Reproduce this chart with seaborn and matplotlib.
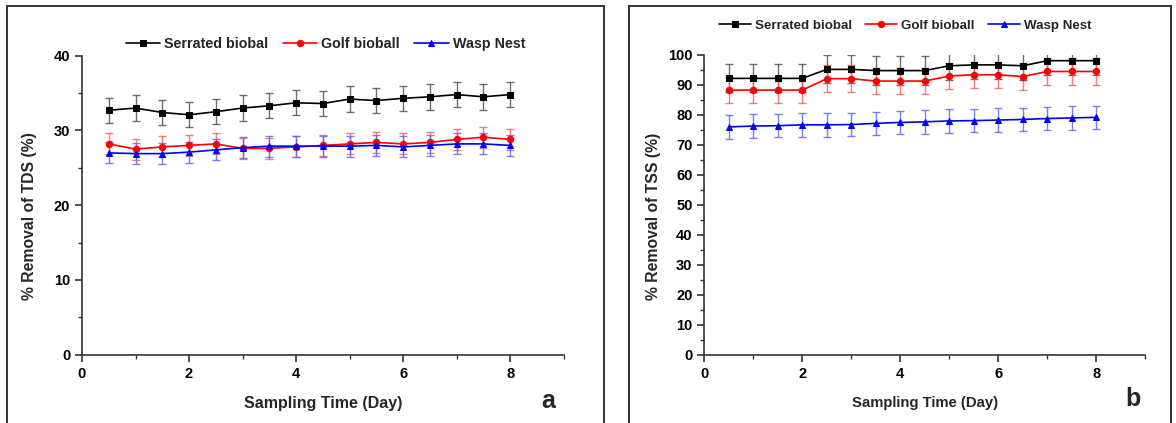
import numpy as np
import pandas as pd
import matplotlib
matplotlib.use("Agg")
import matplotlib.pyplot as plt
from matplotlib.patches import Rectangle
from matplotlib.ticker import MultipleLocator
import seaborn as sns

days = [0.5, 1, 1.5, 2, 2.5, 3, 3.5, 4, 4.5, 5, 5.5, 6, 6.5, 7, 7.5, 8]
series_names = ["Serrated biobal", "Golf bioball", "Wasp Nest"]

tds_serrated = [32.7, 33.0, 32.4, 32.1, 32.5, 33.0, 33.3, 33.7, 33.6, 34.2, 34.0, 34.3, 34.5, 34.8, 34.5, 34.8]
tds_golf = [28.2, 27.5, 27.8, 28.0, 28.2, 27.6, 27.6, 27.8, 28.0, 28.2, 28.4, 28.2, 28.4, 28.8, 29.1, 28.8]
tds_wasp = [27.0, 26.9, 26.9, 27.1, 27.4, 27.7, 27.9, 27.9, 27.9, 27.9, 28.0, 27.8, 28.0, 28.2, 28.2, 28.0]
tds_err = [1.7, 1.4, 1.4]

tss_serrated = [92.2, 92.2, 92.2, 92.2, 95.2, 95.2, 94.8, 94.8, 94.8, 96.4, 96.7, 96.7, 96.4, 98.1, 98.1, 98.1]
tss_golf = [88.3, 88.3, 88.3, 88.3, 92.1, 92.1, 91.3, 91.3, 91.3, 93.0, 93.4, 93.4, 92.8, 94.5, 94.5, 94.5]
tss_wasp = [76.0, 76.3, 76.4, 76.7, 76.7, 76.8, 77.2, 77.5, 77.7, 78.0, 78.1, 78.3, 78.5, 78.8, 79.0, 79.2]
tss_err = [4.7, 4.4, 3.9]

colors = ["#000000", "#ff0000", "#0000ff"]
err_colors = ["#555555", "#ee6666", "#6666ee"]
markers = ["s", "o", "^"]

sns.set_theme(style="ticks")
plt.rcParams["font.family"] = ["Liberation Sans", "DejaVu Sans"]
plt.rcParams["font.weight"] = "bold"

W, H = 1176, 423
fig = plt.figure(figsize=(W/100, H/100), dpi=100)

# panel frames
fig.patches.append(Rectangle((7/W, -0.01), (604-7)/W, 1 - 6/H + 0.01,
                             transform=fig.transFigure, fill=False, ec="#333333", lw=1.4))
fig.patches.append(Rectangle((629/W, -0.01), (1171-629)/W, 1 - 6/H + 0.01,
                             transform=fig.transFigure, fill=False, ec="#333333", lw=1.4))

ax1 = fig.add_axes([82/W, 1-354.7/H, 481.7/W, 299/H])
ax2 = fig.add_axes([704.3/W, 1-354.7/H, 441/W, 299.7/H])


def draw(ax, vals, errs, ylab, ymax, ylx, legx, legy, legsize, xlsize, letter, letpos):
    rows = []
    for name, v in zip(series_names, vals):
        for d, y in zip(days, v):
            rows.append({"Day": d, "Value": y, "Series": name})
    df = pd.DataFrame(rows)
    for name, v, e, ec in zip(series_names, vals, errs, err_colors):
        ax.errorbar(days, v, yerr=e, fmt="none", ecolor=ec, elinewidth=1.0,
                    capsize=2.6, capthick=1.0, alpha=0.85, zorder=1)
    sns.lineplot(data=df, x="Day", y="Value", hue="Series", style="Series",
                 hue_order=series_names, style_order=series_names,
                 palette=colors, markers=dict(zip(series_names, markers)),
                 dashes=False, markersize=4.6, markeredgecolor=None,
                 linewidth=1.2, ax=ax, zorder=3)
    ax.set_xlim(0, 9)
    ax.set_ylim(0, ymax)
    ax.xaxis.set_major_locator(MultipleLocator(2))
    ax.xaxis.set_minor_locator(MultipleLocator(1))
    ax.yaxis.set_major_locator(MultipleLocator(10))
    ax.yaxis.set_minor_locator(MultipleLocator(5))
    ax.tick_params(which="major", direction="out", length=5, width=1.2, labelsize=10.5,
                   color="#333333", labelcolor="black")
    ax.tick_params(which="minor", direction="out", length=3, width=1.0, color="#333333")
    for lab in ax.get_xticklabels() + ax.get_yticklabels():
        lab.set_fontweight("bold")
    for s in ["top", "right"]:
        ax.spines[s].set_visible(False)
    for s in ["left", "bottom"]:
        ax.spines[s].set_linewidth(1.2)
        ax.spines[s].set_color("#333333")
    ax.set_xlabel("Sampling Time (Day)", fontsize=xlsize, fontweight="bold")
    ax.xaxis.set_label_coords(0.5, -0.138)
    ax.set_ylabel(ylab, fontsize=11.3, fontweight="bold")
    ax.yaxis.set_label_coords(ylx, 0.463)
    ax.legend(loc="center", bbox_to_anchor=(legx, legy), ncol=3, frameon=False,
              prop={"weight": "bold", "size": legsize}, handlelength=2.4,
              columnspacing=1.0, handletextpad=0.3)
    ax.text(letpos[0], letpos[1], letter, transform=ax.transAxes, fontsize=18,
            fontweight="bold", ha="center", va="center")


draw(ax1, [tds_serrated, tds_golf, tds_wasp], tds_err, "% Removal of TDS (%)",
     40, -0.093, 0.5055, 1.039, 10.3, 11.5, "a", (0.967, -0.155))
draw(ax2, [tss_serrated, tss_golf, tss_wasp], tss_err, "% Removal of TSS (%)",
     100, -0.099, 0.455, 1.097, 9.6, 10.7, "b", (0.973, -0.148))

fig.savefig("out.png", dpi=100)
